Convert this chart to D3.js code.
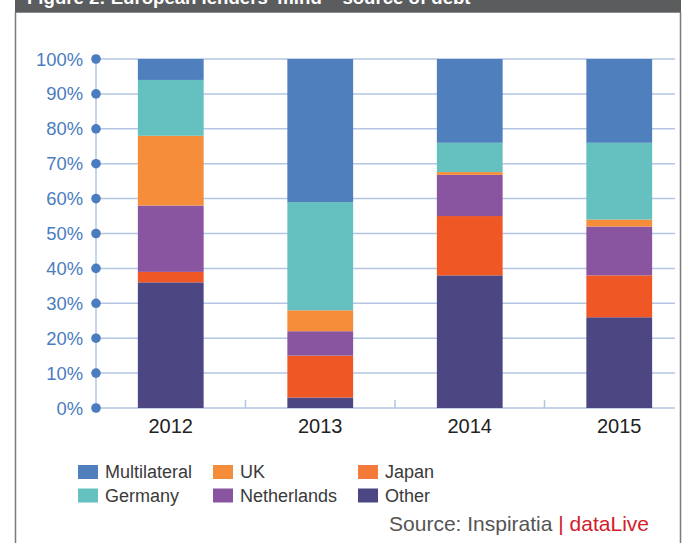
<!DOCTYPE html>
<html>
<head>
<meta charset="utf-8">
<script src="https://cdn.jsdelivr.net/npm/d3@7"></script>
<style>
    body { margin: 0; background: #fff; }
    svg { display: block; font-family: "Liberation Sans", Arial, sans-serif; }
</style>
</head>
<body>
<svg id="chart" width="686" height="543"></svg>
<script>
// data (share of debt, %)
const years = ["2012", "2013", "2014", "2015"];
const seriesNames = ["Other", "Japan", "Netherlands", "UK", "Germany", "Multilateral"];
const other = [36, 3, 38, 26];
const japan = [3, 12, 17, 12];
const netherlands = [19, 7, 11.8, 14];
const uk = [20, 6, 0.8, 2];
const germany = [16, 31, 8.4, 22];
const multilateral = [6, 41, 24, 24];
const yTicks = [0, 10, 20, 30, 40, 50, 60, 70, 80, 90, 100];
const legendOrder = ["Multilateral", "UK", "Japan", "Germany", "Netherlands", "Other"];

const barColor = {
    Multilateral: "#4f7fbd",
    Germany: "#64c1bf",
    UK: "#f58d3b",
    Japan: "#ef5724",
    Netherlands: "#8a55a0",
    Other: "#4c4683"
};
// legend swatch for Japan is printed a bit lighter than the bars
const legendColor = Object.assign({}, barColor, { Japan: "#f37a3b" });

const rows = years.map((y, i) => ({
    year: y,
    Other: other[i],
    Japan: japan[i],
    Netherlands: netherlands[i],
    UK: uk[i],
    Germany: germany[i],
    Multilateral: multilateral[i]
}));

const svg = d3.select("#chart");
const axisBlue = "#4a7cc0";
const gridBlue = "#b3c6e3";

// title band (cut off at the top of the picture, as in the original)
svg.append("rect")
    .attr("x", 15).attr("y", 0)
    .attr("width", 666).attr("height", 12.7)
    .attr("fill", "#5b5c5e");
svg.append("text")
    .attr("x", 27).attr("y", 3.5)
    .attr("fill", "#fff")
    .attr("font-weight", "bold")
    .attr("font-size", 18.6)
    .text("Figure 2: European lenders' mind \u2013 source of debt");

// frame sides
svg.append("line").attr("x1", 15.5).attr("x2", 15.5).attr("y1", 12).attr("y2", 543)
    .attr("stroke", "#7a7a7a").attr("stroke-width", 1.5);
svg.append("line").attr("x1", 680.5).attr("x2", 680.5).attr("y1", 12).attr("y2", 543)
    .attr("stroke", "#7a7a7a").attr("stroke-width", 1.5);

// scales
const x = d3.scaleBand().domain(years).range([96, 694]).padding(0);
const y = d3.scaleLinear().domain([0, 100]).range([408, 59]);
const barW = x.bandwidth() * 0.44;

// gridlines
svg.append("g")
    .selectAll("line")
    .data(yTicks)
    .enter().append("line")
    .attr("x1", 96).attr("x2", 675)
    .attr("y1", d => y(d)).attr("y2", d => y(d))
    .attr("stroke", gridBlue)
    .attr("stroke-width", 1.5);

// vertical axis line
svg.append("line")
    .attr("x1", 96).attr("x2", 96)
    .attr("y1", y(0)).attr("y2", y(100))
    .attr("stroke", gridBlue).attr("stroke-width", 1.5);

// stacked bars
const stacked = d3.stack().keys(seriesNames)(rows);
svg.append("g")
    .selectAll("g")
    .data(stacked)
    .enter().append("g")
    .attr("fill", d => barColor[d.key])
    .selectAll("rect")
    .data(d => d)
    .enter().append("rect")
    .attr("x", d => x(d.data.year) + (x.bandwidth() - barW) / 2)
    .attr("width", barW)
    .attr("y", d => y(d[1]))
    .attr("height", d => y(d[0]) - y(d[1]));

// x axis ticks at band boundaries (pointing up)
svg.append("g")
    .selectAll("line")
    .data(years.slice(1))
    .enter().append("line")
    .attr("x1", d => x(d)).attr("x2", d => x(d))
    .attr("y1", y(0) - 8).attr("y2", y(0))
    .attr("stroke", gridBlue).attr("stroke-width", 1.5);

// y tick dots and labels
const yAxis = svg.append("g");
yAxis.selectAll("circle")
    .data(yTicks)
    .enter().append("circle")
    .attr("cx", 96).attr("cy", d => y(d))
    .attr("r", 4.8)
    .attr("fill", axisBlue);
yAxis.selectAll("text")
    .data(yTicks)
    .enter().append("text")
    .attr("x", 83).attr("y", d => y(d) + 6.5)
    .attr("text-anchor", "end")
    .attr("font-size", 18.4)
    .attr("fill", axisBlue)
    .text(d => d + "%");

// x labels
svg.append("g")
    .selectAll("text")
    .data(years)
    .enter().append("text")
    .attr("x", d => x(d) + x.bandwidth() / 2)
    .attr("y", 433)
    .attr("text-anchor", "middle")
    .attr("font-size", 20)
    .attr("fill", "#222")
    .text(d => d);

// legend
const legendX = [78, 213, 358];
const legendY = [465, 488.5];
const legend = svg.append("g")
    .selectAll("g")
    .data(legendOrder)
    .enter().append("g")
    .attr("transform", (d, i) => `translate(${legendX[i % 3]},${legendY[Math.floor(i / 3)]})`);
legend.append("rect")
    .attr("width", 20).attr("height", 14)
    .attr("fill", d => legendColor[d]);
legend.append("text")
    .attr("x", 27).attr("y", 13)
    .attr("font-size", 18)
    .attr("fill", "#3a3a3a")
    .text(d => d);

// source line
const src = svg.append("text")
    .attr("x", 649).attr("y", 531)
    .attr("text-anchor", "end")
    .attr("font-size", 21);
src.append("tspan").attr("fill", "#555").text("Source: Inspiratia ");
src.append("tspan").attr("fill", "#d0202a").text("| dataLive");
</script>
</body>
</html>
